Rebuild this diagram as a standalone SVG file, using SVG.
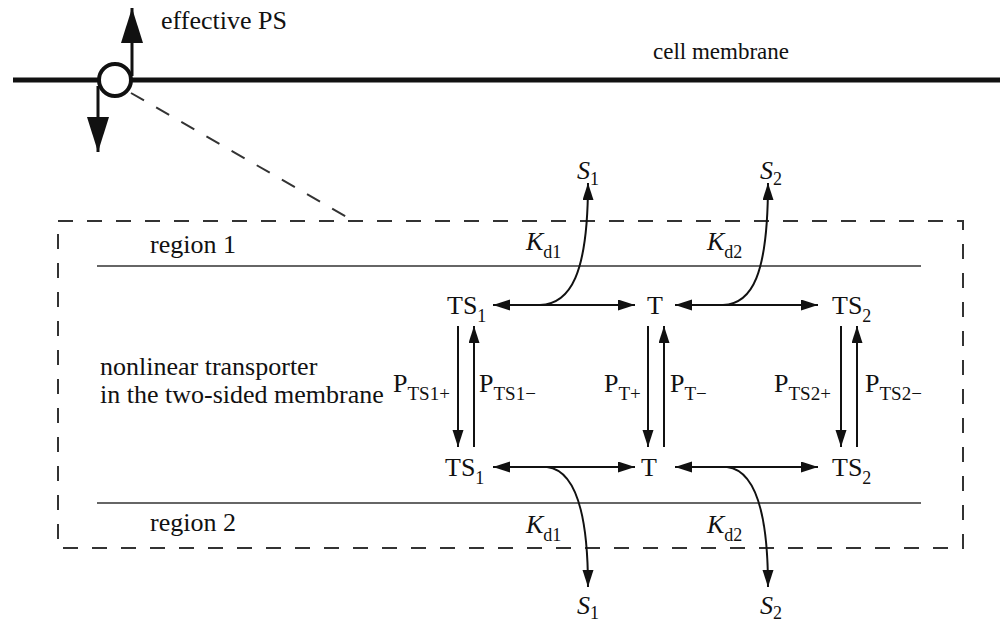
<svg xmlns="http://www.w3.org/2000/svg" width="1000" height="622" viewBox="0 0 1000 622">
<style>
text{font-family:"Liberation Serif","Times New Roman",serif;fill:#111;font-size:26px}
.it{font-style:italic}
.sub{font-size:18px;font-style:normal}
.ps{font-size:19px;font-style:normal}
.cm{font-size:23px}
.ln{stroke:#111;stroke-width:2;fill:none}
.dash{stroke:#333;stroke-width:2;fill:none;stroke-dasharray:15 14}
.reg{stroke:#333;stroke-width:1.6;fill:none}
</style>
<defs>
<marker id="ah" markerUnits="userSpaceOnUse" markerWidth="18" markerHeight="12" refX="17" refY="5.5" orient="auto-start-reverse"><path d="M0,0 L17,5.5 L0,11 Z" fill="#111"/></marker>
<marker id="big" markerUnits="userSpaceOnUse" markerWidth="36" markerHeight="24" refX="35" refY="11" orient="auto"><path d="M0,0 L35,11 L0,22 Z" fill="#111"/></marker>
</defs>
<g id="membrane">
<line x1="13" y1="80" x2="1000" y2="80" stroke="#111" stroke-width="5"/>
<circle cx="115" cy="80" r="16" fill="#fff" stroke="#111" stroke-width="4"/>
<line x1="132" y1="76" x2="132" y2="8" stroke="#111" stroke-width="3" marker-end="url(#big)"/>
<line x1="98" y1="86" x2="98" y2="152" stroke="#111" stroke-width="3" marker-end="url(#big)"/>
<text x="161" y="29">effective PS</text>
<text class="cm" x="653" y="59">cell membrane</text>
</g>
<g id="box">
<line class="dash" x1="131" y1="93" x2="352" y2="220"/>
<rect class="dash" x="58" y="221" width="905" height="327"/>
<line class="reg" x1="97" y1="266" x2="921" y2="266"/>
<line class="reg" x1="97" y1="503" x2="921" y2="503"/>
<text x="150" y="253">region 1</text>
<text x="150" y="531">region 2</text>
<text x="100" y="375">nonlinear transporter</text>
<text x="100" y="403">in the two-sided membrane</text>
</g>
<g id="TS1top"><text x="447" y="314">TS<tspan class="sub" dy="8">1</tspan></text></g>
<g id="Ttop"><text x="647" y="314">T</text></g>
<g id="TS2top"><text x="832" y="314">TS<tspan class="sub" dy="8">2</tspan></text></g>
<g id="TS1bot"><text x="445" y="476">TS<tspan class="sub" dy="8">1</tspan></text></g>
<g id="Tbot"><text x="641" y="476">T</text></g>
<g id="TS2bot"><text x="832" y="476">TS<tspan class="sub" dy="8">2</tspan></text></g>
<g id="S1top"><text class="it" x="577" y="179">S<tspan class="sub" dy="6">1</tspan></text></g>
<g id="S2top"><text class="it" x="760" y="179">S<tspan class="sub" dy="6">2</tspan></text></g>
<g id="S1bot"><text class="it" x="577" y="614">S<tspan class="sub" dy="5">1</tspan></text></g>
<g id="S2bot"><text class="it" x="760" y="614">S<tspan class="sub" dy="5">2</tspan></text></g>
<g id="connectors">
<line class="ln" x1="493" y1="305" x2="635" y2="305" marker-start="url(#ah)" marker-end="url(#ah)"/>
<line class="ln" x1="675" y1="305" x2="818" y2="305" marker-start="url(#ah)" marker-end="url(#ah)"/>
<line class="ln" x1="493" y1="467" x2="635" y2="467" marker-start="url(#ah)" marker-end="url(#ah)"/>
<line class="ln" x1="675" y1="467" x2="818" y2="467" marker-start="url(#ah)" marker-end="url(#ah)"/>
<path class="ln" d="M540,305 C570,304 588,275 588,183" marker-end="url(#ah)"/>
<path class="ln" d="M723,305 C752,304 768,275 768,183" marker-end="url(#ah)"/>
<path class="ln" d="M547,467 C572,470 588,505 588,587" marker-end="url(#ah)"/>
<path class="ln" d="M727,467 C752,470 768,505 768,587" marker-end="url(#ah)"/>
<line class="ln" x1="458" y1="326" x2="458" y2="447" marker-end="url(#ah)"/>
<line class="ln" x1="474" y1="447" x2="474" y2="326" marker-end="url(#ah)"/>
<line class="ln" x1="648" y1="326" x2="648" y2="447" marker-end="url(#ah)"/>
<line class="ln" x1="664" y1="447" x2="664" y2="326" marker-end="url(#ah)"/>
<line class="ln" x1="841" y1="326" x2="841" y2="447" marker-end="url(#ah)"/>
<line class="ln" x1="857" y1="447" x2="857" y2="326" marker-end="url(#ah)"/>
</g>
<g id="labels">
<text class="it" x="526" y="250">K<tspan class="sub" dy="8">d1</tspan></text>
<text class="it" x="707" y="250">K<tspan class="sub" dy="8">d2</tspan></text>
<text class="it" x="526" y="533">K<tspan class="sub" dy="8">d1</tspan></text>
<text class="it" x="707" y="533">K<tspan class="sub" dy="8">d2</tspan></text>
<text x="393" y="392">P<tspan class="ps" dy="8">TS1+</tspan></text>
<text x="479" y="392">P<tspan class="ps" dy="8">TS1−</tspan></text>
<text x="604" y="392">P<tspan class="ps" dy="8">T+</tspan></text>
<text x="670" y="392">P<tspan class="ps" dy="8">T−</tspan></text>
<text x="774" y="392">P<tspan class="ps" dy="8">TS2+</tspan></text>
<text x="865" y="392">P<tspan class="ps" dy="8">TS2−</tspan></text>
</g>
</svg>
